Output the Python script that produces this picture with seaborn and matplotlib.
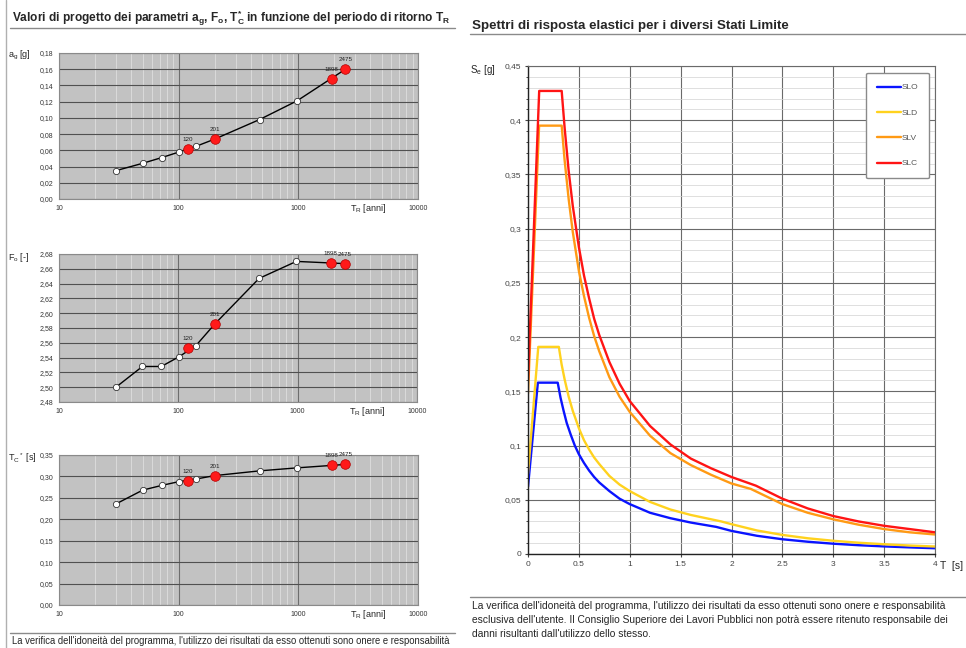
import numpy as np
import pandas as pd
import matplotlib
matplotlib.use('Agg')
import matplotlib.pyplot as plt
import matplotlib.ticker as mticker
from matplotlib.lines import Line2D
import seaborn as sns

# --- parametri in funzione del periodo di ritorno (griglia) ---
tr_grid = [30, 50, 72, 101, 140, 201, 475, 975, 2475]
ag_grid = [0.035, 0.044, 0.051, 0.058, 0.065, 0.074, 0.098, 0.121, 0.160]
fo_grid = [2.500, 2.528, 2.528, 2.541, 2.556, 2.585, 2.647, 2.670, 2.667]
tc_grid = [0.236, 0.268, 0.279, 0.288, 0.294, 0.302, 0.313, 0.320, 0.328]

# --- stati limite (punti rossi) ---
tr_sl = [120, 201, 1898, 2475]
ag_sl = [0.062, 0.074, 0.148, 0.160]
fo_sl = [2.553, 2.585, 2.668, 2.667]
tc_sl = [0.290, 0.302, 0.326, 0.328]

# --- spettri elastici ---
t_slo = [0, 0.097, 0.292, 0.32, 0.35, 0.38, 0.42, 0.46, 0.5, 0.55, 0.6, 0.65, 0.7, 0.8, 0.9,
         1.0, 1.2, 1.4, 1.6, 1.85, 2.0, 2.25, 2.5, 2.75, 3.0, 3.25, 3.5, 3.75, 4.0]
se_slo = [0.062, 0.158, 0.158, 0.144, 0.132, 0.121, 0.110, 0.100, 0.092, 0.084, 0.077, 0.071, 0.066,
          0.058, 0.051, 0.046, 0.038, 0.033, 0.029, 0.025, 0.0213, 0.0168, 0.0136, 0.0113, 0.0095,
          0.0081, 0.0070, 0.0061, 0.0053]
t_sld = [0, 0.101, 0.303, 0.33, 0.36, 0.4, 0.44, 0.5, 0.55, 0.6, 0.65, 0.7, 0.8, 0.9, 1.0,
         1.2, 1.4, 1.6, 1.9, 2.0, 2.25, 2.5, 2.75, 3.0, 3.25, 3.5, 3.75, 4.0]
se_sld = [0.074, 0.191, 0.191, 0.175, 0.161, 0.145, 0.132, 0.116, 0.105, 0.0965, 0.089, 0.083,
          0.072, 0.064, 0.058, 0.048, 0.041, 0.036, 0.030, 0.0275, 0.0217, 0.0176, 0.0145, 0.0122,
          0.0104, 0.0090, 0.0078, 0.0069]
t_slv = [0, 0.109, 0.331, 0.36, 0.4, 0.44, 0.5, 0.55, 0.6, 0.65, 0.7, 0.8, 0.9, 1.0, 1.2,
         1.4, 1.6, 1.8, 2.0, 2.19, 2.5, 2.75, 3.0, 3.25, 3.5, 3.75, 4.0]
se_slv = [0.148, 0.395, 0.395, 0.363, 0.327, 0.297, 0.261, 0.238, 0.218, 0.201, 0.187, 0.163,
          0.145, 0.131, 0.109, 0.093, 0.082, 0.073, 0.065, 0.060, 0.046, 0.038, 0.032, 0.027,
          0.023, 0.020, 0.018]
t_slc = [0, 0.110, 0.331, 0.36, 0.4, 0.44, 0.5, 0.55, 0.6, 0.65, 0.7, 0.8, 0.9, 1.0, 1.2,
         1.4, 1.6, 1.8, 2.0, 2.24, 2.5, 2.75, 3.0, 3.25, 3.5, 3.75, 4.0]
se_slc = [0.160, 0.427, 0.427, 0.393, 0.353, 0.321, 0.283, 0.257, 0.236, 0.217, 0.202, 0.177,
          0.157, 0.141, 0.118, 0.101, 0.088, 0.079, 0.071, 0.063, 0.051, 0.042, 0.035, 0.030,
          0.026, 0.023, 0.020]

sl_names = ['SLO', 'SLD', 'SLV', 'SLC']
sl_colors = ['#0a14ff', '#ffd21e', '#ff9a14', '#ff1414']

sns.set_style('white')
plt.rcParams['font.family'] = ['Liberation Sans', 'DejaVu Sans']
plt.rcParams['mathtext.fontset'] = 'custom'
plt.rcParams['mathtext.rm'] = 'Liberation Sans'
plt.rcParams['mathtext.it'] = 'Liberation Sans'
plt.rcParams['mathtext.bf'] = 'Liberation Sans:bold'

W, H = 966, 648
fig = plt.figure(figsize=(W / 100, H / 100), dpi=100)


def rect(x0, y0, x1, y1):
    return [x0 / W, 1 - y1 / H, (x1 - x0) / W, (y1 - y0) / H]


def comma(fmt):
    return mticker.FuncFormatter(lambda v, p: format(v, fmt).replace('.', ','))


# --- pannelli di sinistra ---
panels = [
    (rect(59, 53, 418, 199), ag_grid, ag_sl, (0, 0.18), 0.02, 'a$_g$ [g]', 55),
    (rect(59, 254, 417, 402), fo_grid, fo_sl, (2.48, 2.68), 0.02, 'F$_o$ [-]', 257),
    (rect(59, 455, 418, 605), tc_grid, tc_sl, (0, 0.35), 0.05, 'T$_C$$^*$ [s]', 458),
]
for r, vals, sl, ylim, step, ylab, ylab_y in panels:
    ax = fig.add_axes(r)
    ax.set_facecolor('#c2c2c2')
    ax.set_xscale('log')
    sns.lineplot(x=tr_grid, y=vals, ax=ax, color='black', lw=1.0, marker='o',
                 markersize=4.5, markerfacecolor='white', markeredgecolor='#333333',
                 markeredgewidth=0.6, estimator=None, sort=False, zorder=3)
    sns.scatterplot(x=tr_sl, y=sl, ax=ax, color='#ff1a1a', s=48, edgecolor='#b00000',
                    linewidth=0.5, zorder=5)
    for t, v in zip(tr_sl, sl):
        ax.annotate(str(t), (t, v), xytext=(0, 5), textcoords='offset points',
                    ha='center', va='bottom', fontsize=4.5, color='#222222')
    ax.set_xlim(10, 10000)
    ax.set_ylim(*ylim)
    ax.set_xticks([10, 100, 1000, 10000])
    ax.set_xticklabels(['10', '100', '1000', '10000'])
    ax.xaxis.set_minor_locator(mticker.LogLocator(base=10, subs=np.arange(2, 10)))
    ax.xaxis.set_minor_formatter(mticker.NullFormatter())
    ax.yaxis.set_major_locator(mticker.MultipleLocator(step))
    ax.yaxis.set_major_formatter(comma('.2f'))
    ax.set_axisbelow(True)
    ax.grid(which='minor', axis='x', color='#dedede', lw=0.6)
    ax.grid(which='major', axis='x', color='#6e6e6e', lw=0.8)
    ax.grid(which='major', axis='y', color='#505050', lw=0.8)
    ax.tick_params(labelsize=5, length=2, pad=2, colors='#333333')
    for s in ax.spines.values():
        s.set_color('#8a8a8a')
        s.set_linewidth(0.8)
    ax.set_xlabel('')
    ax.set_ylabel('')
    ax.annotate('T$_R$ [anni]', xy=(3800, 0), xycoords=('data', 'axes fraction'),
                xytext=(0, -2.5), textcoords='offset points', ha='center', va='top',
                fontsize=6.5)
    fig.text(8 / W, 1 - ylab_y / H, ylab, fontsize=6.5, va='center', ha='left')

# --- spettri di risposta ---
ax = fig.add_axes(rect(528, 66, 935, 554))
df = pd.concat([
    pd.DataFrame({'T': t, 'Se': s, 'SL': n})
    for t, s, n in zip([t_slo, t_sld, t_slv, t_slc], [se_slo, se_sld, se_slv, se_slc], sl_names)
])
sns.lineplot(data=df, x='T', y='Se', hue='SL', hue_order=sl_names, palette=sl_colors,
             lw=1.7, ax=ax, estimator=None, sort=False, legend=False)
ax.set_xlim(0, 4)
ax.set_ylim(0, 0.45)
ax.xaxis.set_major_locator(mticker.MultipleLocator(0.5))
ax.xaxis.set_major_formatter(mticker.FuncFormatter(lambda v, p: f'{v:g}'))
ax.yaxis.set_major_locator(mticker.MultipleLocator(0.05))
ax.yaxis.set_minor_locator(mticker.MultipleLocator(0.01))
ax.yaxis.set_major_formatter(mticker.FuncFormatter(lambda v, p: f'{v:.2f}'.rstrip('0').rstrip('.').replace('.', ',')))
ax.set_axisbelow(True)
ax.grid(which='minor', axis='y', color='#d2d2d2', lw=0.5)
ax.grid(which='major', axis='y', color='#6a6a6a', lw=0.8)
ax.grid(which='major', axis='x', color='#6a6a6a', lw=0.8)
ax.tick_params(labelsize=6, length=2, pad=3, colors='#444444')
ax.tick_params(which='minor', length=1.5, left=True)
ax.tick_params(which='major', left=True, bottom=True)
for k, s in ax.spines.items():
    s.set_color('#222222' if k in ('left', 'bottom') else '#6a6a6a')
    s.set_linewidth(1.0 if k in ('left', 'bottom') else 0.8)
ax.set_xlabel('')
ax.set_ylabel('')
leg = ax.legend(ax.get_lines()[:4], sl_names, loc='upper right', bbox_to_anchor=(0.985, 0.986),
                borderaxespad=0, fontsize=6, labelspacing=2.1, handlelength=2.9,
                handletextpad=0.0, borderpad=1.3, frameon=True, fancybox=True,
                edgecolor='#8a8a8a', framealpha=1)
for txt in leg.get_texts():
    txt.set_color('#555555')
fig.text(470 / W, 1 - 70 / H, 'S$_e$ [g]', fontsize=7, va='center', ha='left')
fig.text(940 / W, 1 - 566 / H, 'T  [s]', fontsize=7.5, va='center', ha='left')

# --- titoli ---
fig.text(12 / W, 1 - 18 / H,
         r'Valori di progetto dei parametri a$_{\mathbf{g}}$, F$_{\mathbf{o}}$, '
         r'T$_{\mathbf{C}}^{\mathbf{*}}$ in funzione del periodo di ritorno T$_{\mathbf{R}}$',
         fontsize=8.6, fontweight='bold', va='center', ha='left')
fig.add_artist(Line2D([10 / W, 455 / W], [1 - 28 / H] * 2, color='#8a8a8a', lw=1))
fig.text(472 / W, 1 - 26 / H, 'Spettri di risposta elastici per i diversi Stati Limite',
         fontsize=9.6, fontweight='bold', va='center', ha='left')
fig.add_artist(Line2D([470 / W, 1.0], [1 - 34 / H] * 2, color='#8a8a8a', lw=1))

# --- note in calce ---
note = ("La verifica dell'idoneità del programma, l'utilizzo dei risultati da esso ottenuti "
        "sono onere e responsabilità")
fig.add_artist(Line2D([10 / W, 455 / W], [1 - 633 / H] * 2, color='#8a8a8a', lw=1))
fig.text(12 / W, 1 - 641 / H, note, fontsize=6.85, va='center', ha='left')
fig.add_artist(Line2D([470 / W, 1.0], [1 - 597 / H] * 2, color='#8a8a8a', lw=1))
note_r = [note,
          "esclusiva dell'utente. Il Consiglio Superiore dei Lavori Pubblici non potrà essere "
          "ritenuto responsabile dei",
          "danni risultanti dall'utilizzo dello stesso."]
for i, line in enumerate(note_r):
    fig.text(472 / W, 1 - (606 + 14 * i) / H, line, fontsize=7.35, va='center', ha='left')

# bordo verticale sinistro
fig.add_artist(Line2D([6 / W, 6 / W], [0, 1], color='#b0b0b0', lw=1))

fig.savefig('out.png', dpi=100)
